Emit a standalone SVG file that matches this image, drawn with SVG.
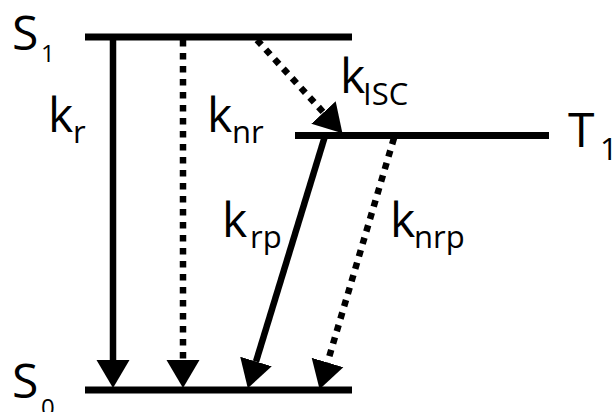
<svg xmlns="http://www.w3.org/2000/svg" width="613" height="412" viewBox="0 0 613 412">
  <defs>
    <style>
      .level { stroke: #000; stroke-width: 7; fill: none; }
      .solid { stroke: #000; stroke-width: 6.5; fill: none; marker-end: url(#arrow); }
      .dotted { stroke: #000; stroke-width: 6.5; fill: none; stroke-dasharray: 6.5 6.5; marker-end: url(#arrow); }
      text { font-family: "Open Sans", "Liberation Sans", sans-serif; fill: #000; }
      .main { font-size: 48px; }
      .sub { font-size: 31px; }
      .subs { font-size: 24px; }
    </style>
    <marker id="arrow" markerUnits="userSpaceOnUse" markerWidth="30" markerHeight="36" viewBox="0 -18 30 36" refX="0" refY="0" orient="auto">
      <path d="M0,-16.5 L28,0 L0,16.5 Z" fill="#000"/>
    </marker>
  </defs>

  <g id="S1">
    <line class="level" x1="85" y1="37" x2="352" y2="37"/>
    <text class="main" x="12" y="50">S<tspan class="subs" x="41" y="62">1</tspan></text>
  </g>
  <g id="T1">
    <line class="level" x1="295" y1="135.5" x2="549" y2="135.5"/>
    <text class="main" x="568" y="147">T<tspan class="sub" x="600" y="160">1</tspan></text>
  </g>
  <g id="S0">
    <line class="level" x1="85" y1="390" x2="352" y2="390"/>
    <text class="main" x="12" y="398">S<tspan class="subs" x="41" y="416">0</tspan></text>
  </g>

  <g id="connectors">
    <line class="solid" x1="113" y1="37" x2="113" y2="360"/>
    <line class="dotted" x1="183" y1="40" x2="183" y2="360"/>
    <line class="dotted" x1="257" y1="40" x2="323.5" y2="112.5"/>
    <line class="solid" x1="325" y1="136" x2="256" y2="361.5"/>
    <line class="dotted" x1="394" y1="138" x2="327.5" y2="362.5"/>
  </g>

  <g id="labels">
    <text class="main" x="48" y="132">k<tspan class="sub" x="73" y="143">r</tspan></text>
    <text class="main" x="207" y="132">k<tspan class="sub" x="232" y="143">nr</tspan></text>
    <text class="main" x="340" y="93">k<tspan class="sub" x="363" y="105">ISC</tspan></text>
    <text class="main" x="222" y="237">k<tspan class="sub" x="250" y="248">rp</tspan></text>
    <text class="main" x="390" y="237">k<tspan class="sub" x="414" y="248">nrp</tspan></text>
  </g>
</svg>
